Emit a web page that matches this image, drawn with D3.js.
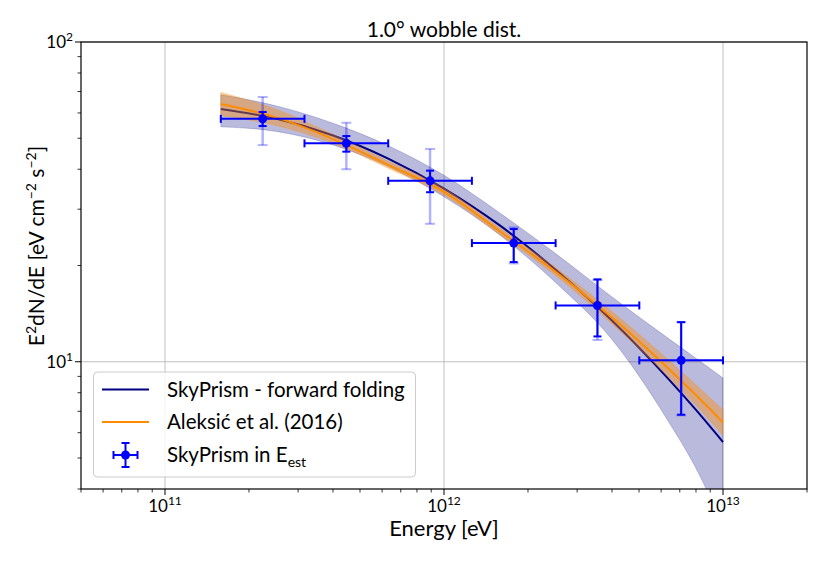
<!DOCTYPE html>
<html>
<head>
<meta charset="utf-8">
<script src="https://cdn.jsdelivr.net/npm/d3@7"></script>
<style>
  html, body { margin: 0; padding: 0; background: #fff; }
  svg { display: block; font-family: Lato, "Open Sans", sans-serif; }
</style>
</head>
<body>
<svg id="chart" width="830" height="561"></svg>
<script>
// ---------- data ----------
const titleText = "1.0° wobble dist.";
// curve sampling energies (eV)
const curveE    = [1.585e11, 2.512e11, 3.981e11, 6.31e11, 1e12, 1.585e12, 2.512e12, 3.981e12, 6.31e12, 7.943e12, 1e13];
// SkyPrism forward folding (E^2 dN/dE, eV cm^-2 s^-1)
const fwdFlux   = [61.7, 57.5, 51.1, 43.2, 34.8, 26.7, 19.4, 13.5, 8.92, 7.12, 5.61];
const fwdLow    = [54.3, 52.5, 47.7, 40.8, 32.8, 24.9, 17.7, 11.8, 6.6, 4.7, 3.08];
const fwdHigh   = [68.4, 63.1, 55.8, 47.4, 38.3, 29.2, 21.8, 16.0, 11.9, 10.3, 8.9];
// Aleksić et al. (2016)
const alekFlux  = [64.0, 58.0, 49.8, 41.3, 34.0, 25.6, 19.1, 13.8, 9.6, 7.91, 6.46];
const alekLow   = [58.9, 54.8, 48.3, 40.3, 33.2, 25.0, 18.6, 13.2, 9.04, 7.35, 5.89];
const alekHigh  = [69.5, 61.5, 51.5, 42.4, 34.9, 26.2, 19.7, 14.4, 10.2, 8.51, 7.08];
// SkyPrism in E_est points
const ptE       = [2.239e11, 4.467e11, 8.913e11, 1.778e12, 3.548e12, 7.079e12];
const ptElo     = [1.585e11, 3.162e11, 6.31e11, 1.259e12, 2.512e12, 5.012e12];
const ptEhi     = [3.162e11, 6.31e11, 1.259e12, 2.512e12, 5.012e12, 1e13];
const ptFlux    = [57.5, 48.2, 36.8, 23.5, 15.0, 10.1];
const statLow   = [54.6, 45.4, 33.9, 20.5, 12.0, 6.83];
const statHigh  = [60.4, 50.8, 39.6, 26.0, 18.1, 13.3];
const sysLow    = [47.6, 40.0, 27.0, 20.3, 11.7, 6.8];
const sysHigh   = [67.3, 55.9, 46.3, 26.3, 18.0, 13.3];
const xMajor    = [1e11, 1e12, 1e13];
const xMajorExp = ["11", "12", "13"];
const yMajor    = [10, 100];
const yMajorExp = ["1", "2"];
const legendLabels = ["SkyPrism - forward folding", "Aleksić et al. (2016)", "SkyPrism in E"];

// ---------- layout ----------
const svg = d3.select("#chart");
const L = 81, R = 807, T = 42, B = 489;
const x = d3.scaleLog().domain([5e10, 2e13]).range([L, R]);
const y = d3.scaleLog().domain([4, 100]).range([B, T]);

const NAVY = "#000080", ORANGE = "#ff8c00", BLUE = "#0000ff";

// grid
const g = svg.append("g");
xMajor.forEach(v => {
  g.append("line").attr("x1", x(v)).attr("x2", x(v)).attr("y1", T).attr("y2", B)
    .attr("stroke", "#b0b0b0").attr("stroke-width", 0.8);
});
yMajor.forEach(v => {
  g.append("line").attr("x1", L).attr("x2", R).attr("y1", y(v)).attr("y2", y(v))
    .attr("stroke", "#b0b0b0").attr("stroke-width", 0.8);
});

// clip
svg.append("clipPath").attr("id", "clip").append("rect")
  .attr("x", L).attr("y", T).attr("width", R - L).attr("height", B - T);
const plot = svg.append("g").attr("clip-path", "url(#clip)");

const idx = d3.range(curveE.length);
const area = (lo, hi) => d3.area().curve(d3.curveMonotoneX)
  .x(i => x(curveE[i])).y0(i => y(lo[i])).y1(i => y(hi[i]));
const line = (vals) => d3.line().curve(d3.curveMonotoneX)
  .x(i => x(curveE[i])).y(i => y(vals[i]));

plot.append("path").attr("d", area(fwdLow, fwdHigh)(idx))
  .attr("fill", NAVY).attr("fill-opacity", 0.27)
  .attr("stroke", NAVY).attr("stroke-opacity", 0.2).attr("stroke-width", 1);
plot.append("path").attr("d", line(fwdFlux)(idx))
  .attr("fill", "none").attr("stroke", NAVY).attr("stroke-width", 2);
plot.append("path").attr("d", area(alekLow, alekHigh)(idx))
  .attr("fill", ORANGE).attr("fill-opacity", 0.4)
  .attr("stroke", ORANGE).attr("stroke-opacity", 0.3).attr("stroke-width", 1);
plot.append("path").attr("d", line(alekFlux)(idx))
  .attr("fill", "none").attr("stroke", ORANGE).attr("stroke-width", 2);

// error bars (systematic, light)
ptE.forEach((e, i) => {
  const cx = x(e);
  plot.append("line").attr("x1", cx).attr("x2", cx).attr("y1", y(sysLow[i])).attr("y2", y(sysHigh[i]))
    .attr("stroke", BLUE).attr("stroke-opacity", 0.3).attr("stroke-width", 2.5);
  [sysLow[i], sysHigh[i]].forEach(v => {
    plot.append("line").attr("x1", cx - 5).attr("x2", cx + 5).attr("y1", y(v)).attr("y2", y(v))
      .attr("stroke", BLUE).attr("stroke-opacity", 0.3).attr("stroke-width", 2);
  });
});
// error bars (stat, solid)
ptE.forEach((e, i) => {
  const cx = x(e), cy = y(ptFlux[i]);
  plot.append("line").attr("x1", x(ptElo[i])).attr("x2", x(ptEhi[i])).attr("y1", cy).attr("y2", cy)
    .attr("stroke", BLUE).attr("stroke-width", 2);
  [ptElo[i], ptEhi[i]].forEach(v => {
    plot.append("line").attr("x1", x(v)).attr("x2", x(v)).attr("y1", cy - 4).attr("y2", cy + 4)
      .attr("stroke", BLUE).attr("stroke-width", 2);
  });
  plot.append("line").attr("x1", cx).attr("x2", cx).attr("y1", y(statLow[i])).attr("y2", y(statHigh[i]))
    .attr("stroke", BLUE).attr("stroke-width", 2);
  [statLow[i], statHigh[i]].forEach(v => {
    plot.append("line").attr("x1", cx - 4).attr("x2", cx + 4).attr("y1", y(v)).attr("y2", y(v))
      .attr("stroke", BLUE).attr("stroke-width", 2);
  });
  plot.append("circle").attr("cx", cx).attr("cy", cy).attr("r", 4.5).attr("fill", BLUE);
});

// axes (spines + ticks)
const ax = svg.append("g");
ax.append("rect").attr("x", L).attr("y", T).attr("width", R - L).attr("height", B - T)
  .attr("fill", "none").attr("stroke", "#000").attr("stroke-width", 1.2);

// x ticks
const xMinor = [];
[1e10, 1e11, 1e12, 1e13].forEach(d => { for (let k = 2; k <= 9; k++) { const v = k * d; if (v >= 5e10 && v <= 2e13) xMinor.push(v); } });
xMinor.forEach(v => ax.append("line").attr("x1", x(v)).attr("x2", x(v)).attr("y1", B).attr("y2", B + 3.5).attr("stroke", "#000").attr("stroke-width", 0.8));
xMajor.forEach((v, i) => {
  ax.append("line").attr("x1", x(v)).attr("x2", x(v)).attr("y1", B).attr("y2", B + 6).attr("stroke", "#000").attr("stroke-width", 1);
  const t = ax.append("text").attr("x", x(v)).attr("y", 512).attr("text-anchor", "middle")
    .attr("font-size", 17).attr("fill", "#000");
  t.append("tspan").text("10");
  t.append("tspan").attr("dy", -7).attr("font-size", 12).text(xMajorExp[i]);
});
// y ticks
const yMinor = [];
[1, 10].forEach(d => { for (let k = 2; k <= 9; k++) { const v = k * d; if (v >= 4 && v <= 100) yMinor.push(v); } });
yMinor.forEach(v => ax.append("line").attr("x1", L - 3.5).attr("x2", L).attr("y1", y(v)).attr("y2", y(v)).attr("stroke", "#000").attr("stroke-width", 0.8));
yMajor.forEach((v, i) => {
  ax.append("line").attr("x1", L - 6).attr("x2", L).attr("y1", y(v)).attr("y2", y(v)).attr("stroke", "#000").attr("stroke-width", 1);
  const t = ax.append("text").attr("x", L - 8).attr("y", y(v) + 6).attr("text-anchor", "end")
    .attr("font-size", 17).attr("fill", "#000");
  t.append("tspan").text("10");
  t.append("tspan").attr("dy", -7).attr("font-size", 12).text(yMajorExp[i]);
});

// axis labels
svg.append("text").attr("x", (L + R) / 2).attr("y", 536).attr("text-anchor", "middle")
  .attr("font-size", 22).text("Energy [eV]");
const yl = svg.append("text").attr("transform", "translate(44,246) rotate(-90)")
  .attr("text-anchor", "middle").attr("font-size", 21);
yl.append("tspan").text("E");
yl.append("tspan").attr("dy", -8).attr("font-size", 14).text("2");
yl.append("tspan").attr("dy", 8).text("dN/dE [eV cm");
yl.append("tspan").attr("dy", -8).attr("font-size", 14).text("−2");
yl.append("tspan").attr("dy", 8).text(" s");
yl.append("tspan").attr("dy", -8).attr("font-size", 14).text("−2");
yl.append("tspan").attr("dy", 8).text("]");

// title
svg.append("text").attr("x", (L + R) / 2).attr("y", 37).attr("text-anchor", "middle")
  .attr("font-size", 21).text(titleText);

// legend
const lg = svg.append("g");
lg.append("rect").attr("x", 93.5).attr("y", 372).attr("width", 322).attr("height", 105).attr("rx", 4)
  .attr("fill", "#fff").attr("fill-opacity", 0.8).attr("stroke", "#cccccc").attr("stroke-width", 1);
const rows = [389.5, 422, 455];
lg.append("line").attr("x1", 102).attr("x2", 149).attr("y1", rows[0]).attr("y2", rows[0]).attr("stroke", NAVY).attr("stroke-width", 2);
lg.append("line").attr("x1", 102).attr("x2", 149).attr("y1", rows[1]).attr("y2", rows[1]).attr("stroke", ORANGE).attr("stroke-width", 2);
const mx = 125.5, my = rows[2];
lg.append("line").attr("x1", mx - 12).attr("x2", mx + 12).attr("y1", my).attr("y2", my).attr("stroke", BLUE).attr("stroke-width", 2);
lg.append("line").attr("x1", mx).attr("x2", mx).attr("y1", my - 12).attr("y2", my + 12).attr("stroke", BLUE).attr("stroke-width", 2);
[[mx - 12, my - 4, mx - 12, my + 4], [mx + 12, my - 4, mx + 12, my + 4], [mx - 4, my - 12, mx + 4, my - 12], [mx - 4, my + 12, mx + 4, my + 12]]
  .forEach(c => lg.append("line").attr("x1", c[0]).attr("y1", c[1]).attr("x2", c[2]).attr("y2", c[3]).attr("stroke", BLUE).attr("stroke-width", 2));
lg.append("circle").attr("cx", mx).attr("cy", my).attr("r", 4.5).attr("fill", BLUE);
legendLabels.forEach((s, i) => {
  const t = lg.append("text").attr("x", 167).attr("y", rows[i] + 7).attr("font-size", 20.5).text(s);
  if (i === 2) t.append("tspan").attr("dy", 5).attr("font-size", 14).text("est");
});
</script>
</body>
</html>
